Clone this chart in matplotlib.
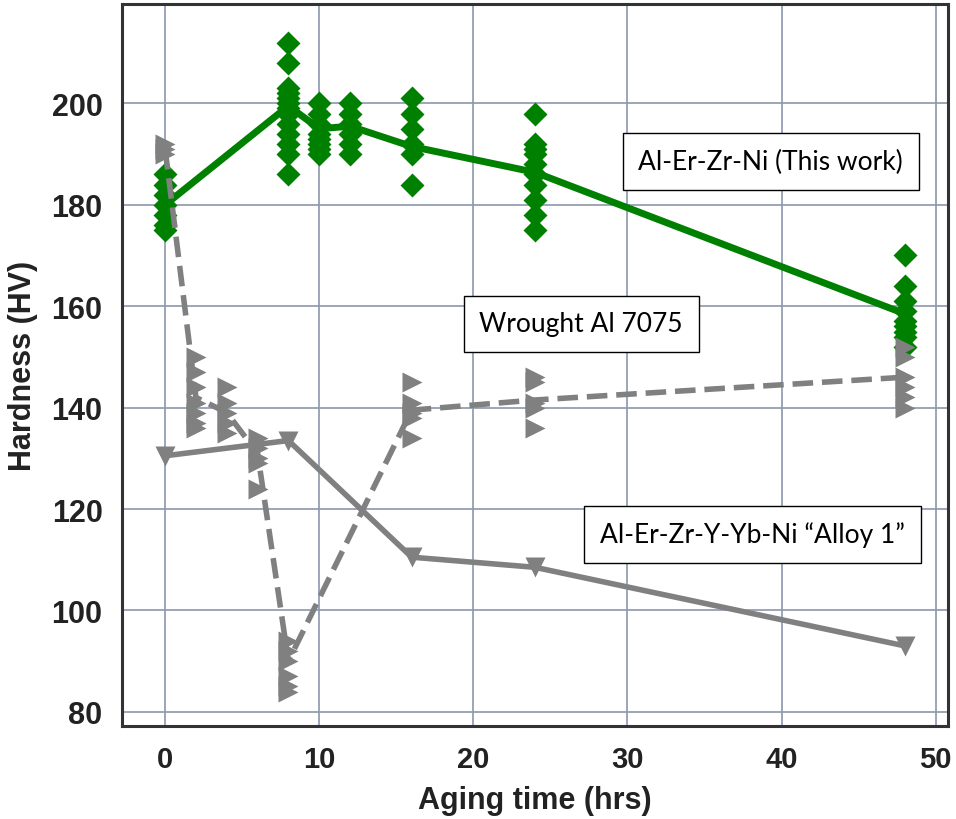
import matplotlib.pyplot as plt

plt.rcParams['font.family'] = 'Liberation Sans'

# Al-Er-Zr-Ni (This work): individual measurements and mean line
green_t = [0, 8, 10, 12, 16, 24, 48]
green_pts = [
    [186, 184, 182, 180, 178, 176, 175],
    [212, 208, 203, 202, 201, 200, 199, 198, 196, 194, 192, 190, 186],
    [200, 198, 196, 194, 193, 192, 191, 190],
    [200, 198, 196, 194, 192, 190],
    [201, 198, 195, 192, 190, 184],
    [198, 192, 191, 190, 188, 186, 184, 181, 178, 175],
    [170, 164, 161, 159, 157, 156, 155, 154, 152],
]
green_mean = [180, 199.5, 195, 195.5, 191.5, 186.4, 158.5]

# Wrought Al 7075
wrought_t = [0, 2, 4, 6, 8, 16, 24, 48]
wrought_pts = [
    [192, 191, 190],
    [150, 147, 144, 141, 139, 137, 136],
    [144, 141, 139, 137, 135],
    [134, 132, 130, 129, 124],
    [94, 92, 90, 87, 85, 84],
    [145, 141, 139, 138, 134],
    [146, 145, 141, 140, 136],
    [152, 150, 146, 144, 142, 140],
]
wrought_mean = [191, 142, 139, 131, 90, 139.5, 141.5, 146]

# Al-Er-Zr-Y-Yb-Ni "Alloy 1"
alloy1_t = [0, 8, 16, 24, 48]
alloy1_hv = [130.5, 133.5, 110.5, 108.5, 93]

fig = plt.figure(figsize=(9.56, 8.2), dpi=100)
ax = fig.add_axes([0.1276, 0.1134, 0.8640, 0.8805])

# green series
ax.plot(green_t, green_mean, color='green', lw=5, zorder=3)
for t, vals in zip(green_t, green_pts):
    ax.plot([t] * len(vals), vals, ls='none', marker='D', ms=12,
            color='green', mec='none', zorder=3)

# wrought series
ax.plot(wrought_t, wrought_mean, color='gray', lw=4, ls='--', zorder=4)
for t, vals in zip(wrought_t, wrought_pts):
    ax.plot([t] * len(vals), vals, ls='none', marker='>', ms=14,
            color='gray', mec='none', zorder=4)

# alloy 1
ax.plot(alloy1_t, alloy1_hv, color='gray', lw=4, marker='v', ms=15,
        mec='none', zorder=4)

ax.set_xlim(-2.8, 50.8)
ax.set_ylim(77.2, 219.6)
ax.set_xticks([0, 10, 20, 30, 40, 50])
ax.set_yticks([80, 100, 120, 140, 160, 180, 200])
ax.grid(True, color='#8a98ae', lw=1.2)
ax.set_axisbelow(True)
ax.tick_params(axis='y', length=0, labelsize=22, pad=14)
ax.tick_params(axis='x', length=0, labelsize=21, pad=14)
for lab in ax.get_xticklabels() + ax.get_yticklabels():
    lab.set_fontweight('bold')
    lab.set_color('#222222')
for sp in ax.spines.values():
    sp.set_color('#333333')
    sp.set_linewidth(2.2)

ax.set_xlabel('Aging time (hrs)', fontsize=22, fontweight='bold', color='#222222', labelpad=8)
ax.set_ylabel('Hardness (HV)', fontsize=22, fontweight='bold', color='#222222', labelpad=10)

box = dict(boxstyle='square,pad=0.6', fc='white', ec='black', lw=1.0)
tfont = dict(fontsize=19, family='Lato', ha='center', va='center', bbox=box, zorder=6)
ax.text(39.3, 188.5, 'Al-Er-Zr-Ni (This work)', **tfont)
ax.text(27.0, 156.5, 'Wrought Al 7075', **tfont)
ax.text(38.1, 115, 'Al-Er-Zr-Y-Yb-Ni \u201cAlloy 1\u201d', **tfont)

fig.savefig('out.png', dpi=100)
